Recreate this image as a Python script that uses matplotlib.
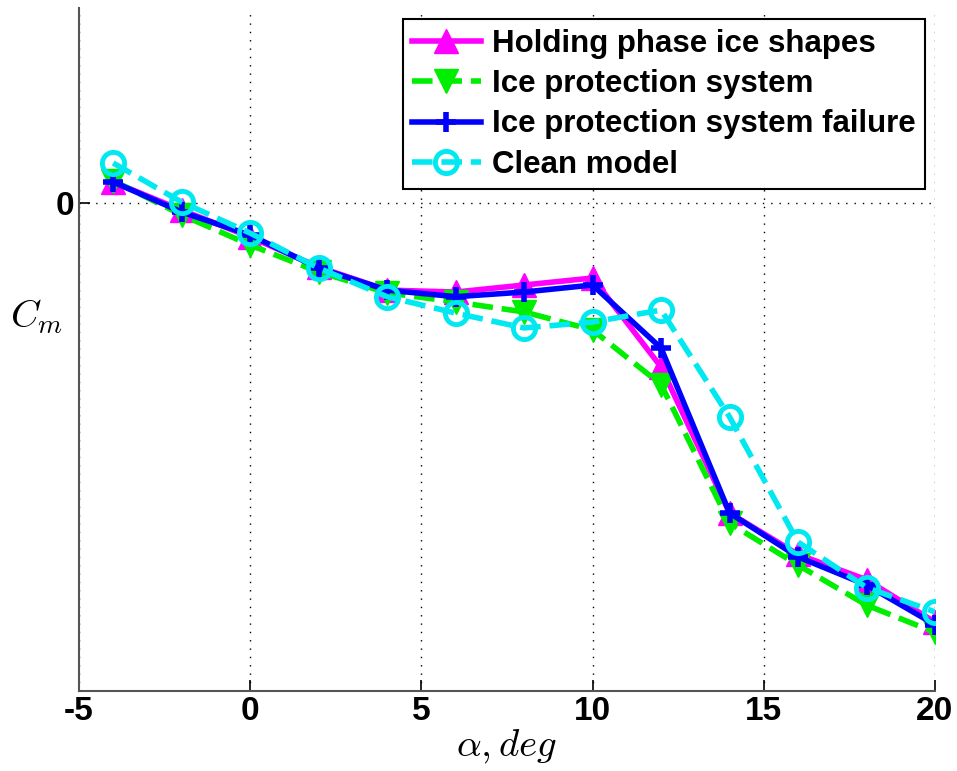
import numpy as np
import matplotlib.pyplot as plt

plt.rcParams['font.family'] = ['Liberation Sans', 'DejaVu Sans']
plt.rcParams['mathtext.fontset'] = 'cm'
plt.rcParams['axes.unicode_minus'] = False

# angle of attack, deg
alpha = [-4, -2, 0, 2, 4, 6, 8, 10, 12, 14, 16, 18, 20]

# pitching moment coefficient (no scale given on the original, only the zero)
cm_holding = [0.0108, -0.0036, -0.0174, -0.0328, -0.0446, -0.0456, -0.0420,
              -0.0384, -0.0840, -0.1588, -0.1800, -0.1930, -0.2147]
cm_ips = [0.0115, -0.0061, -0.0215, -0.0353, -0.0460, -0.0507, -0.0558,
          -0.0650, -0.0930, -0.1640, -0.1855, -0.2060, -0.2200]
cm_ips_fail = [0.0108, -0.0046, -0.0164, -0.0333, -0.0446, -0.0480, -0.0456,
               -0.0420, -0.0743, -0.1588, -0.1813, -0.1957, -0.2160]
cm_clean = [0.0205, 0.0005, -0.0154, -0.0333, -0.0480, -0.0564, -0.0640,
            -0.0610, -0.0548, -0.1096, -0.1737, -0.1970, -0.2095]

labels = ['Holding phase ice shapes', 'Ice protection system',
          'Ice protection system failure', 'Clean model']

fig = plt.figure(figsize=(9.57, 7.71), dpi=100)
ax = fig.add_axes([0.0825, 0.1038, 0.8945, 0.886])

ax.plot(alpha, cm_holding, '-^', color='#ff00ff', lw=4, ms=17, label=labels[0])
ax.plot(alpha, cm_ips, '--v', color='#00ee00', lw=4, ms=17, label=labels[1])
ax.plot(alpha, cm_ips_fail, '-+', color='#0000ff', lw=4, ms=15, mew=4, label=labels[2])
ax.plot(alpha, cm_clean, '--o', color='#00e8f0', lw=4, ms=16, mew=3.5,
        mfc='none', label=labels[3])

ax.set_xlim(-5, 20)
ax.set_ylim(-0.25, 0.1)
ax.set_xticks([-5, 0, 5, 10, 15, 20])
ax.set_yticks([0])
ax.tick_params(direction='in', labelsize=24, length=8, width=1.2, colors='black')
for t in ax.get_xticklabels() + ax.get_yticklabels():
    t.set_fontweight('bold')
ax.grid(True, linestyle=(0, (1, 5)), color='black', lw=1)

for s in ['top', 'right']:
    ax.spines[s].set_visible(False)
for s in ['left', 'bottom']:
    ax.spines[s].set_color('#555555')
    ax.spines[s].set_linewidth(1.5)

ax.set_xlabel(r'$\alpha, deg$', fontsize=28, labelpad=0)
ax.set_ylabel(r'$C_m$', fontsize=28, rotation=0)
ax.yaxis.set_label_coords(-0.05, 0.52)

leg = ax.legend(loc='upper right', bbox_to_anchor=(0.988, 0.983),
                handlelength=2.2, borderpad=0.3, labelspacing=0.33,
                handletextpad=0.35, borderaxespad=0, fancybox=False,
                framealpha=1, edgecolor='black',
                prop={'size': 22.5, 'weight': 'bold'})
leg.get_frame().set_linewidth(1.5)

fig.savefig('out.png', dpi=100)
